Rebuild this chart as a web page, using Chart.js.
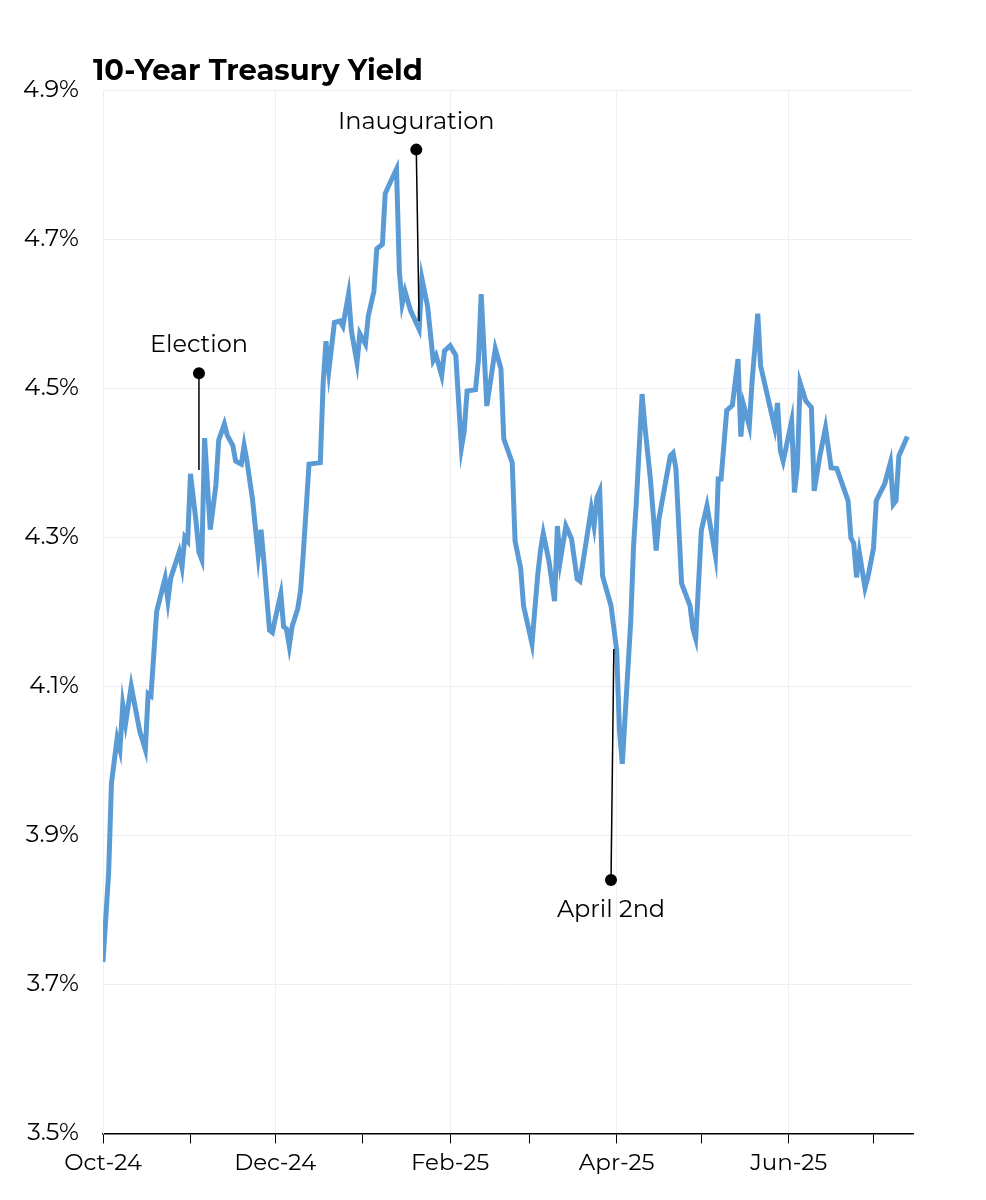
<!DOCTYPE html>
<html>
<head>
<meta charset="utf-8">
<script src="https://cdn.jsdelivr.net/npm/chart.js@4"></script>
<style>
  body { margin: 0; background: #fff; }
  canvas { display: block; }
</style>
</head>
<body>
<canvas id="chart" width="986" height="1200"></canvas>
<script>
// days since 2024-10-01 and the 10y yield (%)
const days = [0,2,3,5,6,7,8,10,13,15,16,17,19,22,23,24,27,28,29,30,31,33,34,35,36,38,40,41,43,44,46,47,49,50,51,53,55,56,57,59,60,61,63,64,65,66,67,69,70,71,73,77,78,79,80,82,84,85,87,88,90,91,93,94,96,97,99,100,102,104,105,106,107,109,112,113,115,117,118,120,121,123,125,127,128,129,132,133,134,136,139,141,142,145,146,148,149,152,154,155,156,158,160,161,162,164,166,168,169,171,173,174,175,176,177,180,182,183,184,187,188,189,191,192,194,196,197,201,202,203,205,208,209,210,212,214,217,218,219,221,223,225,226,227,229,230,232,233,238,239,240,241,244,245,246,247,249,251,252,254,256,258,260,264,265,266,267,268,270,271,273,274,277,279,280,281,282,285];
const yields = [3.73,3.85,3.97,4.03,4.015,4.075,4.05,4.10,4.04,4.015,4.09,4.087,4.20,4.245,4.215,4.245,4.28,4.26,4.30,4.295,4.385,4.32,4.28,4.27,4.433,4.31,4.37,4.43,4.452,4.437,4.423,4.402,4.398,4.423,4.402,4.35,4.275,4.31,4.268,4.175,4.172,4.19,4.224,4.18,4.177,4.154,4.18,4.204,4.228,4.28,4.398,4.40,4.506,4.563,4.523,4.588,4.59,4.583,4.626,4.577,4.534,4.573,4.559,4.597,4.63,4.687,4.693,4.761,4.778,4.794,4.657,4.613,4.63,4.604,4.579,4.647,4.61,4.537,4.544,4.517,4.55,4.557,4.544,4.42,4.443,4.496,4.498,4.537,4.626,4.476,4.553,4.526,4.432,4.40,4.295,4.258,4.208,4.157,4.248,4.282,4.305,4.268,4.214,4.315,4.268,4.315,4.298,4.244,4.241,4.289,4.338,4.315,4.353,4.362,4.248,4.208,4.148,4.04,3.996,4.188,4.289,4.349,4.492,4.449,4.376,4.282,4.325,4.409,4.413,4.392,4.238,4.208,4.177,4.164,4.309,4.342,4.275,4.378,4.378,4.47,4.477,4.539,4.435,4.477,4.449,4.51,4.60,4.53,4.447,4.48,4.416,4.402,4.456,4.36,4.393,4.507,4.483,4.474,4.362,4.409,4.447,4.393,4.392,4.349,4.299,4.292,4.246,4.279,4.232,4.246,4.285,4.349,4.372,4.40,4.344,4.349,4.409,4.435];

const monthDays = [0,31,61,92,123,151,182,212,243,273];
const monthLabels = ['Oct-24','','Dec-24','','Feb-25','','Apr-25','','Jun-25',''];

const events = [
  { label: 'Election', day: 34, dotY: 4.52, endY: 4.39, endDay: 34, above: true },
  { label: 'Inauguration', day: 111, dotY: 4.82, endY: 4.59, endDay: 112, above: true },
  { label: 'April 2nd', day: 180, dotY: 3.84, endY: 4.15, endDay: 181, above: false }
];

const font = "'Montserrat', 'Inter', 'Open Sans', sans-serif";

const annotations = {
  id: 'annotations',
  afterDatasetsDraw(chart) {
    const { ctx, scales: { x, y } } = chart;
    ctx.save();
    events.forEach(e => {
      const px = x.getPixelForValue(e.day), py = y.getPixelForValue(e.dotY);
      ctx.strokeStyle = '#000';
      ctx.lineWidth = 1.5;
      ctx.beginPath();
      ctx.moveTo(px, py);
      ctx.lineTo(x.getPixelForValue(e.endDay), y.getPixelForValue(e.endY));
      ctx.stroke();
      ctx.fillStyle = '#000';
      ctx.beginPath();
      ctx.arc(px, py, 6, 0, Math.PI * 2);
      ctx.fill();
      ctx.font = '24px ' + font;
      ctx.textAlign = 'center';
      ctx.textBaseline = e.above ? 'bottom' : 'top';
      ctx.fillText(e.label, px, e.above ? py - 16 : py + 18);
    });
    // title
    ctx.font = 'bold 29px ' + font;
    ctx.textAlign = 'left';
    ctx.textBaseline = 'alphabetic';
    ctx.fillText('10-Year Treasury Yield', 93, 80);
    ctx.restore();
  }
};

new Chart(document.getElementById('chart'), {
  type: 'line',
  data: {
    datasets: [{
      data: days.map((d, i) => ({ x: d, y: yields[i] })),
      borderColor: '#5b9bd5',
      borderWidth: 5,
      pointRadius: 0,
      tension: 0
    }]
  },
  options: {
    responsive: false,
    animation: false,
    layout: { padding: { left: 0, right: 73, top: 90, bottom: 17 } },
    plugins: {
      legend: { display: false },
      tooltip: { enabled: false }
    },
    scales: {
      x: {
        type: 'linear',
        min: 0,
        max: 287,
        afterBuildTicks: axis => { axis.ticks = monthDays.map(v => ({ value: v })); },
        ticks: {
          autoSkip: false,
          maxRotation: 0,
          color: '#000',
          font: { family: font, size: 23 },
          padding: 6,
          callback: (v, i) => monthLabels[i]
        },
        grid: {
          color: ctx => (monthLabels[ctx.index] ? '#eeeeee' : 'rgba(0,0,0,0)'),
          tickColor: '#000',
          tickLength: 10,
          drawOnChartArea: true
        },
        border: { color: '#000', width: 1.5 }
      },
      y: {
        min: 3.5,
        max: 4.9,
        afterFit: axis => { axis.width = 103; },
        afterBuildTicks: axis => {
          const t = [];
          for (let i = 0; i <= 7; i++) t.push({ value: 3.5 + i * 0.2 });
          axis.ticks = t;
        },
        ticks: {
          color: '#000',
          font: { family: font, size: 24 },
          padding: 24,
          callback: v => v.toFixed(1) + '%'
        },
        grid: { color: '#eeeeee', drawTicks: false },
        border: { color: '#eeeeee' }
      }
    }
  },
  plugins: [annotations]
});
</script>
</body>
</html>
